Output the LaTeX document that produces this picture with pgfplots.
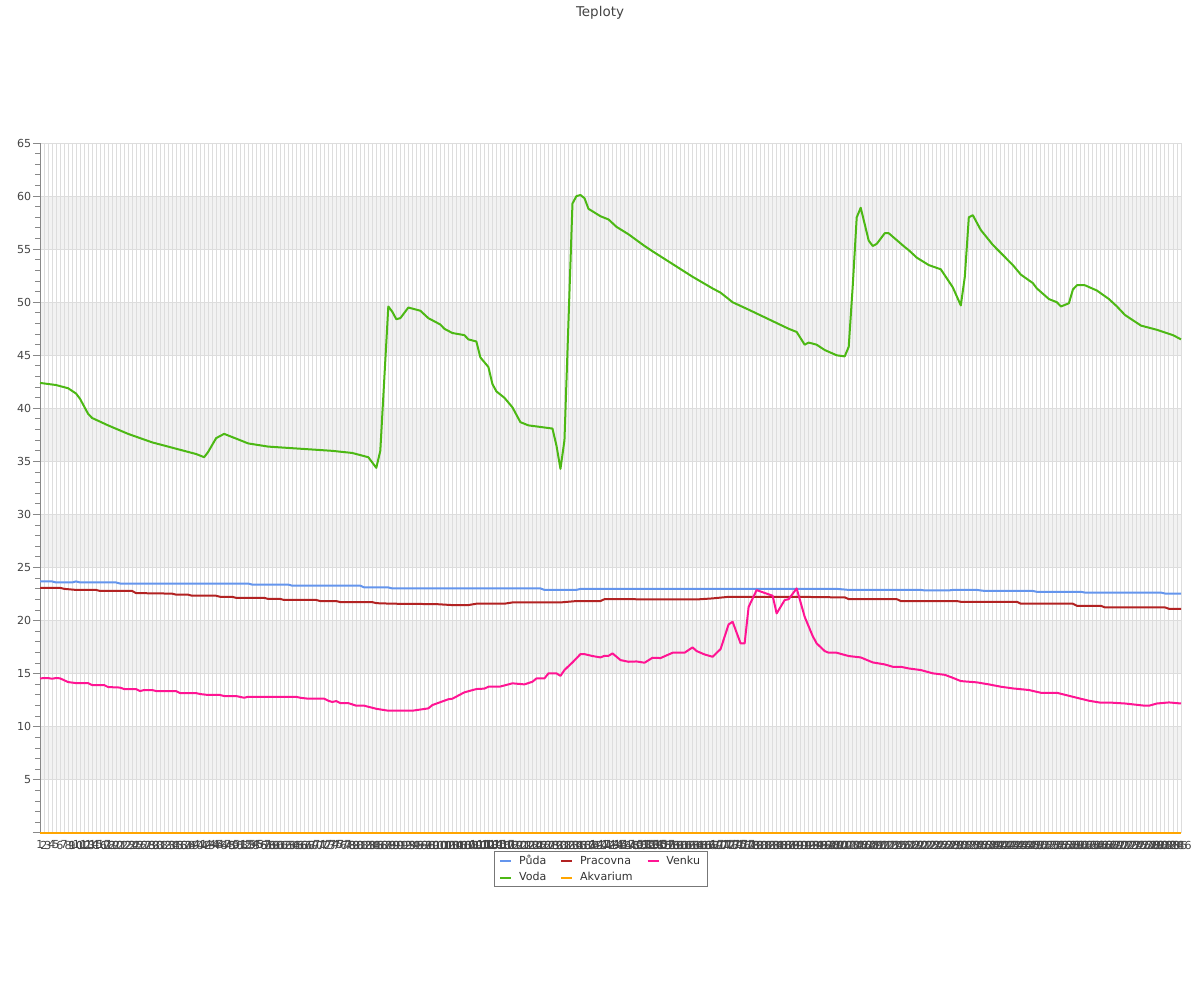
\documentclass[border=0pt]{standalone}
\usepackage{fontspec}
\setmainfont{DejaVu Sans}
\usepackage{pgfplots}
\pgfplotsset{compat=1.18}
\definecolor{cPuda}{RGB}{100,149,237}
\definecolor{cPrac}{RGB}{178,34,34}
\definecolor{cVenku}{RGB}{255,20,147}
\definecolor{cVoda}{RGB}{76,184,20}
\definecolor{cAkv}{RGB}{255,165,0}
\definecolor{ctext}{RGB}{68,68,68}
\definecolor{caxis}{RGB}{136,136,136}
\definecolor{cgrid}{RGB}{221,221,221}
\definecolor{cband}{RGB}{242,242,242}
\definecolor{clegend}{RGB}{119,119,119}
\begin{document}
\begin{tikzpicture}
\path (0,0) rectangle (900pt,750pt);
\node[font=\fontsize{10.1}{12}\selectfont, text=ctext] at (450pt,740.25pt) {Teploty};
\begin{axis}[
  set layers=standard,
  at={(30pt,125.25pt)}, anchor=south west,
  scale only axis, width=855.75pt, height=517.5pt,
  xmin=1, xmax=286, ymin=0, ymax=65,
  clip=false,
  axis x line*=bottom, axis y line*=left,
  axis line style={draw=caxis, line width=0.75pt, -},
  xtick={1,...,286},
  ytick={0,5,...,65},
  yticklabels={,5,10,15,20,25,30,35,40,45,50,55,60,65},
  minor y tick num=4,
  xmajorgrids, ymajorgrids,
  major grid style={draw=cgrid, line width=0.75pt},
  xtick style={draw=none},
  ytick style={draw=caxis, line width=0.75pt},
  tick align=outside,
  major tick length=5.25pt, minor tick length=3.4pt,
  ticklabel style={font=\fontsize{8.3}{9.5}\selectfont, text=ctext},
  xticklabel style={yshift=2.9pt},
  yticklabel style={xshift=2.2pt},
  /pgf/number format/assume math mode=true,
  legend style={at={(0.4917,-0.0262)}, anchor=north, draw=clegend, line width=0.75pt,
    font=\fontsize{8.3}{9.5}\selectfont, text=black!80, inner xsep=3.5pt, inner ysep=1pt,
    /tikz/every odd column/.append style={column sep=3pt},
    /tikz/every even column/.append style={column sep=8.5pt}},
  legend columns=3,
  legend cell align=left,
  legend image code/.code={\draw[#1, line width=1.5pt] (0pt,0pt) -- (8.25pt,0pt);},
  every axis plot/.append style={line width=1.5pt, line join=round},
]
\pgfplotsextra{%
\begin{pgfonlayer}{axis background}
\fill[cband] (axis cs:1,5) rectangle (axis cs:286,10);
\fill[cband] (axis cs:1,15) rectangle (axis cs:286,20);
\fill[cband] (axis cs:1,25) rectangle (axis cs:286,30);
\fill[cband] (axis cs:1,35) rectangle (axis cs:286,40);
\fill[cband] (axis cs:1,45) rectangle (axis cs:286,50);
\fill[cband] (axis cs:1,55) rectangle (axis cs:286,60);
\end{pgfonlayer}}
\addplot[cPuda] coordinates {(1,23.7)(4,23.7)(5,23.6)(9,23.6)(10,23.7)(11,23.6)(20,23.6)(21,23.5)(53,23.5)(54,23.4)(63,23.4)(64,23.3)(81,23.3)(82,23.13)(88,23.13)(89,23.04)(126,23.04)(127,22.9)(135,22.9)(136,23.0)(200,23.0)(203,22.9)(221,22.9)(222,22.85)(228,22.85)(229,22.9)(235,22.9)(237,22.8)(249,22.8)(250,22.72)(261,22.72)(262,22.65)(281,22.65)(282,22.56)(286,22.56)};
\addlegendentry{Půda}
\addplot[cPrac] coordinates {(1,23.1)(6,23.1)(7,23.0)(10,22.9)(15,22.9)(16,22.8)(24,22.8)(25,22.6)(34,22.55)(35,22.45)(38,22.45)(39,22.35)(45,22.35)(46,22.25)(49,22.25)(50,22.15)(57,22.15)(58,22.05)(61,22.05)(62,21.95)(70,21.95)(71,21.85)(75,21.85)(76,21.75)(84,21.75)(85,21.65)(89,21.6)(100,21.56)(104,21.47)(108,21.47)(110,21.6)(117,21.6)(119,21.72)(131,21.72)(135,21.85)(141,21.85)(142,22.03)(165,22.0)(169,22.1)(173,22.25)(190,22.25)(200,22.2)(202,22.2)(203,22.03)(215,22.03)(216,21.85)(230,21.85)(231,21.78)(245,21.78)(246,21.6)(259,21.6)(260,21.4)(266,21.4)(267,21.25)(282,21.25)(283,21.12)(286,21.12)};
\addlegendentry{Pracovna}
\addplot[cVenku] coordinates {(1,14.57)(3,14.6)(4,14.53)(5,14.6)(6,14.57)(8,14.22)(10,14.12)(13,14.12)(14,13.94)(17,13.94)(18,13.75)(21,13.7)(22,13.56)(25,13.56)(26,13.37)(27,13.47)(29,13.47)(30,13.37)(35,13.37)(36,13.18)(40,13.18)(41,13.09)(43,13.0)(46,13.0)(47,12.9)(50,12.9)(52,12.74)(53,12.83)(65,12.83)(66,12.74)(68,12.65)(72,12.65)(73,12.46)(74,12.34)(75,12.43)(76,12.24)(78,12.24)(80,11.99)(82,11.99)(85,11.7)(88,11.52)(94,11.52)(98,11.74)(99,12.05)(103,12.6)(104,12.65)(107,13.25)(110,13.56)(112,13.6)(113,13.78)(116,13.8)(119,14.1)(122,14.0)(124,14.25)(125,14.56)(127,14.56)(128,15.04)(130,15.04)(131,14.8)(132,15.35)(134,16.07)(136,16.85)(137,16.85)(139,16.67)(141,16.54)(142,16.69)(143,16.69)(144,16.92)(146,16.29)(148,16.13)(150,16.16)(152,16.04)(154,16.51)(156,16.48)(159,16.98)(162,16.98)(164,17.49)(165,17.14)(167,16.82)(169,16.6)(171,17.33)(173,19.65)(174,19.9)(176,17.86)(177,17.86)(178,21.3)(180,22.88)(184,22.35)(185,20.68)(187,21.94)(188,22.03)(190,23.04)(192,20.37)(194,18.55)(195,17.86)(197,17.14)(198,16.98)(200,16.98)(203,16.67)(206,16.54)(209,16.07)(212,15.88)(214,15.66)(216,15.66)(218,15.5)(221,15.35)(224,15.04)(227,14.9)(229,14.62)(231,14.31)(235,14.19)(238,14.0)(241,13.78)(244,13.62)(248,13.47)(251,13.21)(255,13.21)(259,12.83)(263,12.46)(266,12.27)(269,12.27)(272,12.2)(277,11.99)(278,11.99)(280,12.2)(283,12.3)(286,12.2)};
\addlegendentry{Venku}
\addplot[cVoda] coordinates {(1,42.4)(5,42.2)(8,41.9)(10,41.4)(11,40.9)(13,39.5)(14,39.1)(18,38.4)(23,37.6)(29,36.8)(36,36.1)(40,35.7)(42,35.4)(43,35.9)(45,37.2)(47,37.6)(49,37.3)(53,36.7)(58,36.4)(66,36.2)(74,36.0)(79,35.8)(83,35.4)(85,34.4)(86,36.0)(88,49.6)(89,49.1)(90,48.4)(91,48.5)(93,49.5)(96,49.2)(98,48.5)(101,47.9)(102,47.5)(104,47.1)(107,46.9)(108,46.5)(110,46.3)(111,44.8)(113,43.9)(114,42.3)(115,41.6)(117,41.0)(119,40.1)(121,38.7)(123,38.4)(125,38.3)(129,38.1)(130,36.5)(131,34.3)(132,37.0)(134,59.3)(135,60.0)(136,60.1)(137,59.8)(138,58.8)(141,58.1)(143,57.8)(145,57.1)(148,56.4)(152,55.3)(154,54.8)(159,53.6)(164,52.4)(169,51.3)(171,50.9)(174,50.0)(178,49.3)(183,48.4)(188,47.5)(190,47.2)(192,46.0)(193,46.2)(195,46.0)(197,45.5)(200,45.0)(202,44.9)(203,45.8)(204,51.5)(205,58.0)(206,58.9)(208,55.8)(209,55.3)(210,55.5)(212,56.5)(213,56.5)(217,55.2)(218,54.9)(220,54.2)(223,53.5)(226,53.1)(229,51.4)(231,49.7)(232,52.4)(233,58.0)(234,58.2)(236,56.8)(239,55.4)(244,53.5)(246,52.6)(249,51.8)(250,51.3)(253,50.3)(255,50.0)(256,49.6)(258,49.9)(259,51.2)(260,51.6)(262,51.6)(265,51.1)(268,50.3)(270,49.6)(272,48.8)(274,48.3)(276,47.8)(280,47.4)(284,46.9)(286,46.5)};
\addlegendentry{Voda}
\addplot[cAkv] coordinates {(1,0)(286,0)};
\addlegendentry{Akvarium}
\end{axis}
\end{tikzpicture}
\end{document}
